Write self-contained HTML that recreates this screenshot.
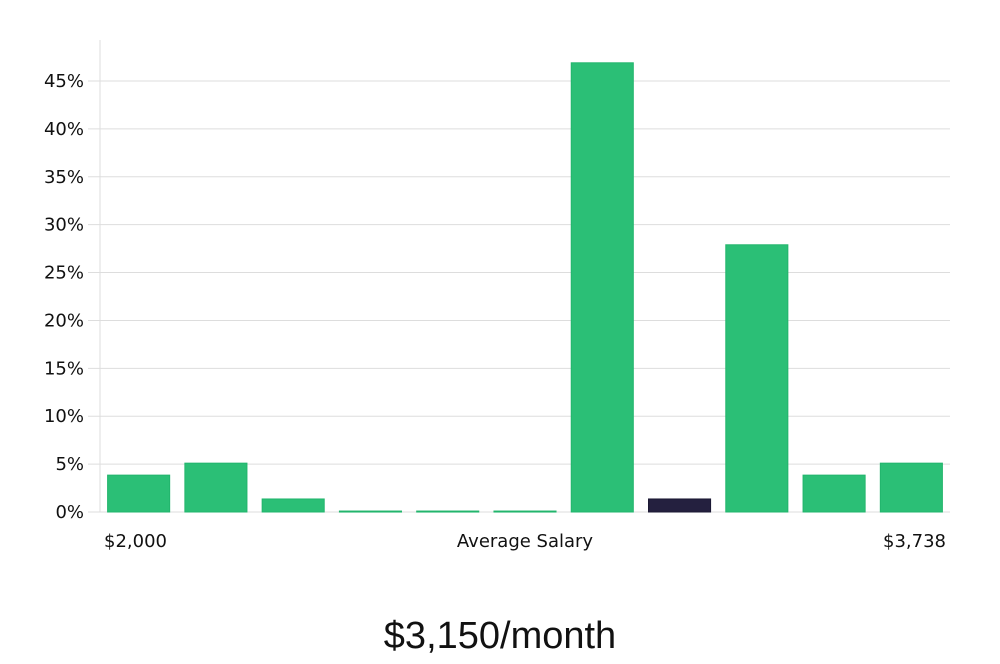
<!DOCTYPE html>
<html><head><meta charset="utf-8"><style>
body{margin:0;background:#fff;width:1000px;height:660px;overflow:hidden;font-family:"DejaVu Sans","Liberation Sans",sans-serif}
</style></head><body>
<svg width="1000" height="660" id="c">
<g id="grid"></g>
<line x1="100" y1="40" x2="100" y2="512" stroke="#ddd"/>
<g id="bars"></g>
<text x="104" y="547" font-size="18" fill="#111">$2,000</text>
<text x="525" y="547" font-size="18" fill="#111" text-anchor="middle">Average Salary</text>
<text x="946" y="547" font-size="18" fill="#111" text-anchor="end">$3,738</text>
<text x="500" y="648" font-size="38" fill="#111" text-anchor="middle" font-family="Liberation Sans, sans-serif">$3,150/month</text>
</svg>
<script>
const values=[3.85,5.1,1.36,0.1,0.1,0.1,46.9,1.36,27.9,3.85,5.1];
const highlight=[0,0,0,0,0,0,0,1,0,0,0];
const ticks=[0,5,10,15,20,25,30,35,40,45];
const y=v=>512-v*431/45;
const x0=100,bw=850/values.length;
const ns="http://www.w3.org/2000/svg";
const g=document.getElementById('grid'),b=document.getElementById('bars');
ticks.forEach(t=>{
const l=document.createElementNS(ns,'line');
l.setAttribute('x1',88);l.setAttribute('x2',950);l.setAttribute('y1',y(t));l.setAttribute('y2',y(t));l.setAttribute('stroke','#ddd');


g.appendChild(l);
const tx=document.createElementNS(ns,'text');
tx.setAttribute('x',84);tx.setAttribute('y',y(t)+6);tx.setAttribute('text-anchor','end');tx.setAttribute('font-size','18');tx.setAttribute('fill','#111');
tx.textContent=t+'%';


g.appendChild(tx);
});
values.forEach((v,i)=>{
const r=document.createElementNS(ns,'rect');
r.setAttribute('x',x0+i*bw+7.6);r.setAttribute('width',bw-15.2);
r.setAttribute('y',y(v));r.setAttribute('height',Math.max(1,512-y(v)));
r.setAttribute('fill',highlight[i]?'#24203f':'#2bbf76');
r.setAttribute('stroke',highlight[i]?'#1b1833':'#22b56c');


b.appendChild(r);
});
</script>
</body></html>
